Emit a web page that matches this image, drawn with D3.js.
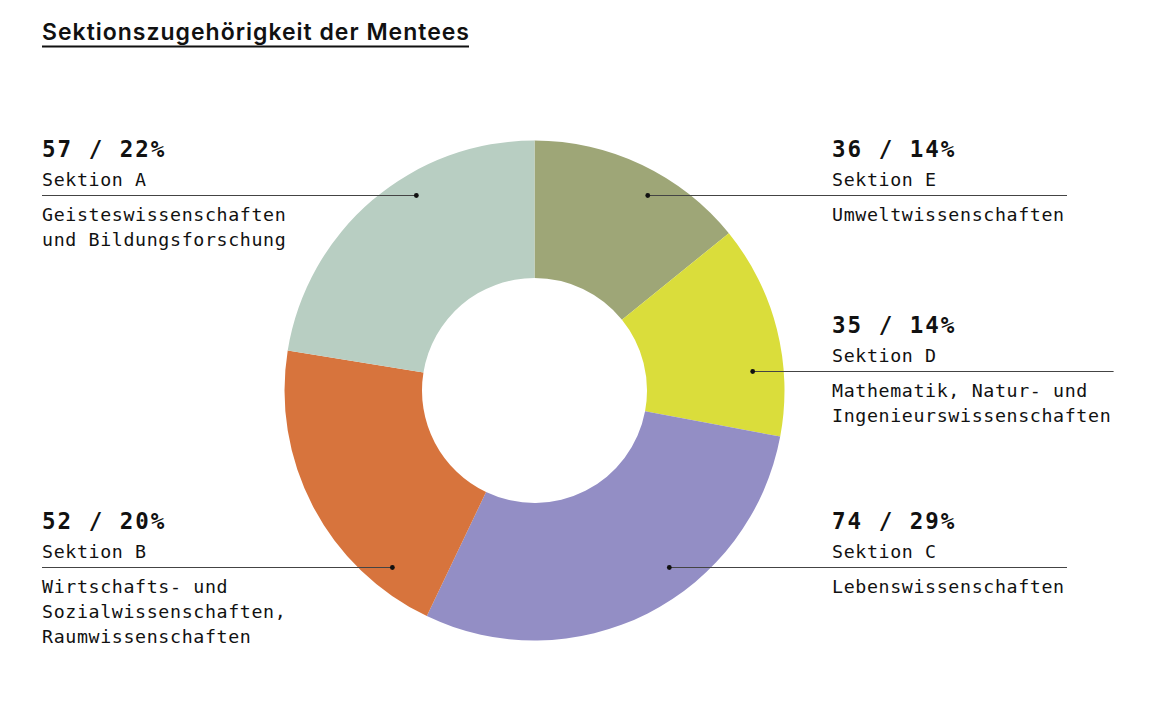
<!DOCTYPE html>
<html>
<head>
<meta charset="utf-8">
<script src="https://cdn.jsdelivr.net/npm/d3@7"></script>
<style>
  body { margin: 0; background: #fff; }
  .mono { font-family: "DejaVu Sans Mono", monospace; fill: #111; }
</style>
</head>
<body>
<div id="chart-container"></div>
<script>
// data, in drawing order clockwise from 12 o'clock
const sections = ["E", "D", "C", "B", "A"];
const counts = [36, 35, 74, 52, 57];
const fields = [
    ["Umweltwissenschaften"],
    ["Mathematik, Natur- und", "Ingenieurswissenschaften"],
    ["Lebenswissenschaften"],
    ["Wirtschafts- und", "Sozialwissenschaften,", "Raumwissenschaften"],
    ["Geisteswissenschaften", "und Bildungsforschung"]
];
const colors = ["#9ea677", "#dadd3b", "#938ec5", "#d7743d", "#b8cec2"];

// label layout (side, baseline of the number, radius where the leader dot sits)
const labelSide = ["right", "right", "right", "left", "left"];
const labelY = [157, 333, 529, 529, 157];
const dotR = [225.5, 219, 222.5, 227, 228];

function createDonut(width, height) {
    const cx = 534.5, cy = 390.5;
    const outerR = 250, innerR = 112.5;

    d3.select("#chart-container").select("svg").remove();

    const svg = d3.select("#chart-container")
        .append("svg")
        .attr("width", width)
        .attr("height", height);

    // title with underline, sized to the reference width
    const titleW = 427;
    const title = svg.append("text")
        .attr("x", 42)
        .attr("y", 39.5)
        .style("font-family", "Inter, 'Noto Sans', sans-serif")
        .style("font-weight", 600)
        .style("font-size", "22px")
        .style("fill", "#111")
        .text("Sektionszugehörigkeit der Mentees");
    const fs = 22 * titleW / title.node().getComputedTextLength();
    title.style("font-size", `${Math.min(fs, 23)}px`);
    const ls = (titleW - title.node().getComputedTextLength()) / 32;
    title.style("letter-spacing", `${Math.max(ls, 0)}px`);
    svg.append("rect")
        .attr("x", 42).attr("y", 45.5)
        .attr("width", titleW).attr("height", 2)
        .attr("fill", "#111");

    const total = d3.sum(counts);
    const data = sections.map((s, i) => ({ s, v: counts[i], i }));

    const pie = d3.pie().sort(null).value(d => d.v);
    const arc = d3.arc().innerRadius(innerR).outerRadius(outerR);

    const g = svg.append("g").attr("transform", `translate(${cx},${cy})`);
    g.selectAll(".slice")
        .data(pie(data))
        .enter()
        .append("path")
        .attr("class", "slice")
        .attr("d", arc)
        .attr("fill", d => colors[d.data.i]);

    // labels
    const charW = 11.65;
    data.forEach((d, i) => {
        const y0 = labelY[i];
        const left = labelSide[i] === "left";
        const x0 = left ? 42 : 832;
        const lineY = y0 + 38.5;
        const dy = lineY - cy;
        const dx = Math.sqrt(dotR[i] * dotR[i] - dy * dy);
        const dotX = left ? cx - dx : cx + dx;
        const maxLen = d3.max(fields[i], t => t.length);
        const textEnd = x0 + maxLen * charW + 2;

        svg.append("text")
            .attr("class", "mono")
            .attr("x", x0).attr("y", y0)
            .style("font-weight", "bold")
            .style("font-size", "22.5px")
            .style("letter-spacing", "2px")
            .text(`${d.v} / ${Math.round(d.v / total * 100)}%`);

        svg.append("text")
            .attr("class", "mono")
            .attr("x", x0).attr("y", y0 + 28.8)
            .style("font-size", "18.3px")
            .style("letter-spacing", "0.63px")
            .text(`Sektion ${d.s}`);

        svg.append("line")
            .attr("x1", left ? x0 : dotX)
            .attr("x2", left ? dotX : textEnd)
            .attr("y1", lineY).attr("y2", lineY)
            .attr("stroke", "#444")
            .attr("stroke-width", 1.1);

        svg.append("circle")
            .attr("cx", dotX).attr("cy", lineY)
            .attr("r", 2.4)
            .attr("fill", "#111");

        fields[i].forEach((t, k) => {
            svg.append("text")
                .attr("class", "mono")
                .attr("x", x0).attr("y", y0 + 64 + k * 25)
                .style("font-size", "18.3px")
                .style("letter-spacing", "0.63px")
                .text(t);
        });
    });
}

createDonut(1173, 702);
</script>
</body>
</html>
